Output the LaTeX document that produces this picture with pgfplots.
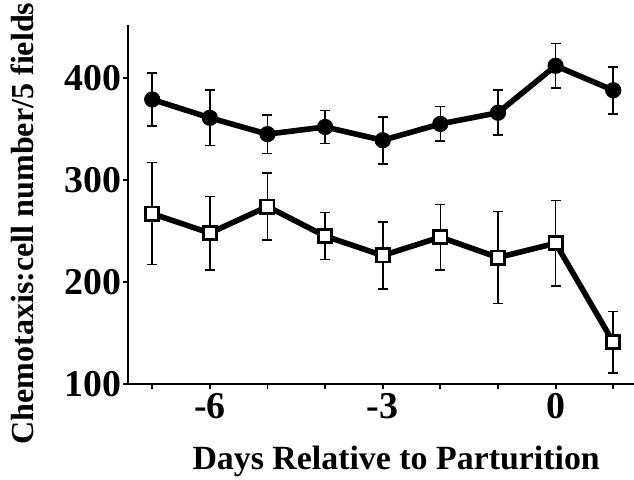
\documentclass[border=0pt]{standalone}
\usepackage{pgfplots}
\usepackage{pgfplotstable}
\pgfplotsset{compat=1.18}
\usepackage{fontspec}
\setmainfont{Liberation Serif}

% day, mean, error
\pgfplotstableread{
x y e
-7 379 26
-6 361 27
-5 345 19
-4 352 16
-3 339 23
-2 355 17
-1 366 22
0 412 22
1 388 23
}\upperdata
\pgfplotstableread{
x y e
-7 267 50
-6 248 36
-5 274 33
-4 245 23
-3 226 33
-2 244 32
-1 224 45
0 238 42
1 141 30
}\lowerdata

\begin{document}
\begin{tikzpicture}
\useasboundingbox (-64bp,-48bp) rectangle (253bp,192bp);
\begin{axis}[
    at={(0,0)}, anchor=south west,
    scale only axis, width=253bp, height=179.5bp,
    xmin=-7.42, xmax=1.36, ymin=100, ymax=452,
    axis x line*=bottom, axis y line*=left,
    axis line style={line width=1bp},
    tick align=outside, major tick length=2.5bp,
    tick style={line width=0.9bp, black},
    xtick={-7,...,1},
    xticklabels={,-6,,,-3,,,0,},
    ytick={100,200,300,400},
    yticklabels={100,200,300,400},
    ticklabel style={font=\fontsize{19}{22}\selectfont\bfseries},
    yticklabel style={inner xsep=0.5bp},
    xticklabel style={inner ysep=2bp},
    xlabel={Days Relative to Parturition},
    ylabel={Chemotaxis:cell number/5 fields},
    every axis x label/.style={at={(axis description cs:0.53,0)}, anchor=base, yshift=-42.5bp,
        font=\fontsize{17}{20}\selectfont\bfseries},
    every axis y label/.style={at={(axis description cs:0,0.447)}, xshift=-53bp, rotate=90, anchor=center,
        font=\fontsize{16.1}{19}\selectfont\bfseries},
    clip=false,
]
\addplot[black, line width=2.8bp, mark=*, mark size=3.8bp,
    mark options={fill=black, line width=0.5bp},
    error bars/.cd, y dir=both, y explicit,
    error bar style={line width=0.8bp, black},
    error mark options={rotate=90, black, mark size=2.5bp, line width=0.8bp}]
    table[x=x, y=y, y error=e] {\upperdata};
\addplot[black, line width=2.8bp, mark=square*, mark size=3.3bp,
    mark options={fill=white, draw=black, line width=1.4bp},
    error bars/.cd, y dir=both, y explicit,
    error bar style={line width=0.8bp, black},
    error mark options={rotate=90, black, mark size=2.5bp, line width=0.8bp}]
    table[x=x, y=y, y error=e] {\lowerdata};
\end{axis}
\end{tikzpicture}
\end{document}
